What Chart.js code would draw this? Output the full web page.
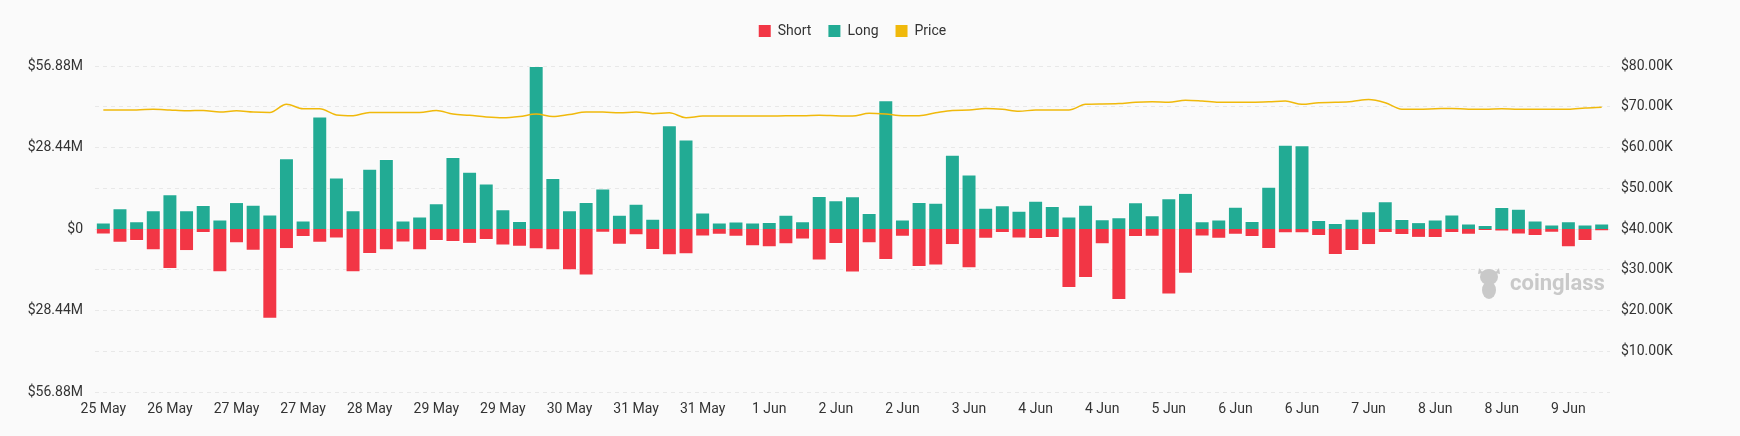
<!DOCTYPE html>
<html lang="en">

<head>
  <meta charset="UTF-8">
  <title>Liquidation Chart</title>
  <script src="https://cdn.jsdelivr.net/npm/chart.js"></script>
  <style>
    body {
      margin: 0;
      background: #fafafa;
    }

    .wrap {
      width: 1740px;
      height: 436px;
    }
  </style>
</head>

<body>
  <div class="wrap">
    <canvas id="liqChart" width="1740" height="436"></canvas>
  </div>

  <script>
    // 4h buckets, 25 May 16:00 -> 9 Jun 16:00
    const labels = [
      "25 May", "25 May",
      "26 May", "26 May", "26 May", "26 May", "26 May", "26 May",
      "27 May", "27 May", "27 May", "27 May", "27 May", "27 May",
      "28 May", "28 May", "28 May", "28 May", "28 May", "28 May",
      "29 May", "29 May", "29 May", "29 May", "29 May", "29 May",
      "30 May", "30 May", "30 May", "30 May", "30 May", "30 May",
      "31 May", "31 May", "31 May", "31 May", "31 May", "31 May",
      "1 Jun", "1 Jun", "1 Jun", "1 Jun", "1 Jun", "1 Jun",
      "2 Jun", "2 Jun", "2 Jun", "2 Jun", "2 Jun", "2 Jun",
      "3 Jun", "3 Jun", "3 Jun", "3 Jun", "3 Jun", "3 Jun",
      "4 Jun", "4 Jun", "4 Jun", "4 Jun", "4 Jun", "4 Jun",
      "5 Jun", "5 Jun", "5 Jun", "5 Jun", "5 Jun", "5 Jun",
      "6 Jun", "6 Jun", "6 Jun", "6 Jun", "6 Jun", "6 Jun",
      "7 Jun", "7 Jun", "7 Jun", "7 Jun", "7 Jun", "7 Jun",
      "8 Jun", "8 Jun", "8 Jun", "8 Jun", "8 Jun", "8 Jun",
      "9 Jun", "9 Jun", "9 Jun", "9 Jun", "9 Jun"
    ];

    // liquidations in $M
    const longLiq = [
      2.3, 7.2, 2.7, 6.5, 12.1, 6.5, 8.4, 3.3, 9.4, 8.5,
      5.1, 24.7, 3.0, 39.3, 18.0, 6.5, 21.0, 24.4, 3.0, 4.4,
      9.0, 25.1, 20.0, 15.9, 6.9, 2.8, 56.88, 17.8, 6.5, 9.4,
      14.1, 5.0, 8.8, 3.6, 36.2, 31.2, 5.8, 2.3, 2.6, 2.3,
      2.4, 5.0, 2.7, 11.5, 10.0, 11.4, 5.6, 44.9, 3.3, 9.4,
      9.2, 25.9, 19.0, 7.4, 8.3, 6.4, 9.9, 8.0, 4.4, 8.5,
      3.4, 4.1, 9.3, 4.8, 10.7, 12.6, 2.7, 3.3, 7.8, 2.8,
      14.7, 29.4, 29.2, 3.1, 2.1, 3.6, 6.2, 9.7, 3.5, 2.4,
      3.3, 5.1, 1.9, 1.4, 7.7, 7.1, 3.0, 1.6, 2.7, 1.6,
      1.9
    ];

    const shortLiq = [
      1.9, 4.8, 4.2, 7.4, 14.0, 7.7, 1.4, 15.1, 5.0, 7.6,
      31.3, 7.0, 2.8, 4.8, 3.3, 15.1, 8.7, 7.4, 4.7, 7.4,
      4.2, 4.5, 5.2, 3.8, 5.8, 6.2, 7.1, 7.4, 14.4, 16.2,
      1.3, 5.5, 2.2, 7.3, 9.2, 8.8, 2.6, 2.0, 2.7, 6.0,
      6.4, 5.3, 3.7, 11.0, 5.2, 15.2, 5.0, 10.8, 2.7, 13.3,
      12.7, 5.6, 13.7, 3.4, 1.4, 3.3, 3.5, 3.1, 20.6, 17.1,
      5.3, 24.8, 2.8, 2.7, 22.9, 15.6, 2.6, 3.4, 2.0, 2.8,
      7.0, 1.5, 1.5, 2.4, 9.1, 7.7, 5.6, 1.4, 2.1, 3.1,
      3.1, 1.4, 2.0, 0.7, 0.9, 1.9, 2.4, 1.3, 6.4, 4.2,
      0.8
    ];

    // BTC price in $K
    const price = [
      69.2, 69.2, 69.2, 69.4, 69.2, 69.0, 69.1, 68.7, 69.0, 68.7,
      68.6, 70.6, 69.5, 69.5, 68.0, 67.8, 68.6, 68.6, 68.6, 68.6,
      69.1, 68.2, 67.9, 67.5, 67.3, 67.6, 68.2, 67.6, 68.1, 68.7,
      68.7, 68.5, 68.7, 68.3, 68.5, 67.3, 67.7, 67.7, 67.7, 67.7,
      67.7, 67.8, 67.8, 67.9, 67.8, 67.7, 68.4, 68.2, 67.8, 67.8,
      68.5, 69.1, 69.2, 69.6, 69.4, 68.9, 69.2, 69.2, 69.2, 70.6,
      70.7, 70.8, 71.1, 71.2, 71.1, 71.6, 71.4, 71.1, 71.1, 71.1,
      71.2, 71.4, 70.6, 71.0, 71.1, 71.3, 71.8, 71.0, 69.4, 69.4,
      69.5, 69.6, 69.4, 69.4, 69.5, 69.4, 69.4, 69.4, 69.4, 69.7,
      69.9
    ];

    const leftTicks = [-56.88, -28.44, 0, 28.44, 56.88];

    const font = { family: "Roboto", size: 14 };

    // coinglass watermark
    const watermark = {
      id: "watermark",
      beforeDatasetsDraw(chart) {
        const ctx = chart.ctx;
        ctx.save();
        ctx.fillStyle = "#c9c9c9";
        // little bull logo
        ctx.beginPath();
        ctx.ellipse(1489, 277, 9, 8, 0, 0, Math.PI * 2);
        ctx.fill();
        ctx.beginPath();
        ctx.ellipse(1489, 290, 7, 9, 0, 0, Math.PI * 2);
        ctx.fill();
        ctx.beginPath();
        ctx.moveTo(1479, 268); ctx.lineTo(1483, 273); ctx.lineTo(1478, 274); ctx.closePath();
        ctx.moveTo(1499, 268); ctx.lineTo(1495, 273); ctx.lineTo(1500, 274); ctx.closePath();
        ctx.fill();
        ctx.font = "bold 22px Roboto";
        ctx.textBaseline = "middle";
        ctx.fillText("coinglass", 1510, 284);
        ctx.restore();
      }
    };

    // fixed legend height so the plot area starts where the original does
    const legendHeight = {
      id: "legendHeight",
      beforeInit(chart) {
        const fit = chart.legend.fit;
        chart.legend.fit = function () {
          fit.call(this);
          this.height = 59;
        };
      }
    };

    const ctx = document.getElementById("liqChart").getContext("2d");
    new Chart(ctx, {
      type: "bar",
      data: {
        labels: labels,
        datasets: [
          {
            label: "Short",
            data: shortLiq.map(v => -v),
            backgroundColor: "#f23645",
            borderColor: "rgba(255,255,255,0.45)",
            borderWidth: 1,
            yAxisID: "y",
            order: 1
          },
          {
            label: "Long",
            data: longLiq,
            backgroundColor: "#22ab94",
            borderColor: "rgba(255,255,255,0.45)",
            borderWidth: 1,
            yAxisID: "y",
            order: 1
          },
          {
            type: "line",
            label: "Price",
            data: price,
            borderColor: "#f0b90b",
            backgroundColor: "#f0b90b",
            borderWidth: 1.5,
            pointRadius: 0,
            cubicInterpolationMode: "monotone",
            yAxisID: "y1",
            order: 0
          }
        ]
      },
      options: {
        responsive: false,
        animation: false,
        layout: { padding: { top: 7, left: 0, right: 0, bottom: 0 } },
        datasets: {
          bar: { barPercentage: 1, categoryPercentage: 0.9 }
        },
        scales: {
          x: {
            stacked: true,
            grid: { display: false, drawTicks: false },
            border: { display: false },
            afterFit: s => { s.height = 44; },
            ticks: {
              autoSkip: false,
              maxRotation: 0,
              padding: 9,
              color: "#333",
              font: font,
              callback: function (v, i) {
                return i % 4 === 0 ? this.getLabelForValue(v) : null;
              }
            }
          },
          y: {
            stacked: true,
            position: "left",
            min: -56.88,
            max: 56.88,
            grid: { display: false, drawTicks: false },
            border: { display: false },
            afterFit: s => { s.width = 95; },
            afterBuildTicks: s => { s.ticks = leftTicks.map(v => ({ value: v })); },
            ticks: {
              padding: 12,
              color: "#333",
              font: font,
              callback: v => v === 0 ? "$0" : "$" + Math.abs(v).toFixed(2) + "M"
            }
          },
          y1: {
            position: "right",
            min: 0,
            max: 80,
            grid: { color: "#e8e8e8", drawTicks: false },
            border: { display: false, dash: [4, 4] },
            afterFit: s => { s.width = 130; },
            ticks: {
              stepSize: 10,
              padding: 11,
              color: "#333",
              font: font,
              callback: v => v === 0 ? "" : "$" + v.toFixed(2) + "K"
            }
          }
        },
        plugins: {
          legend: {
            position: "top",
            fullSize: false,
            labels: {
              boxWidth: 12,
              boxHeight: 12,
              padding: 17,
              color: "#333",
              font: font,
              sort: (a, b) => a.datasetIndex - b.datasetIndex,
              generateLabels: chart => {
                const items = Chart.defaults.plugins.legend.labels.generateLabels(chart);
                items.forEach(it => { it.lineWidth = 0; it.strokeStyle = it.fillStyle; });
                return items;
              }
            }
          },
          tooltip: { enabled: false }
        }
      },
      plugins: [watermark, legendHeight]
    });
  </script>
</body>

</html>
